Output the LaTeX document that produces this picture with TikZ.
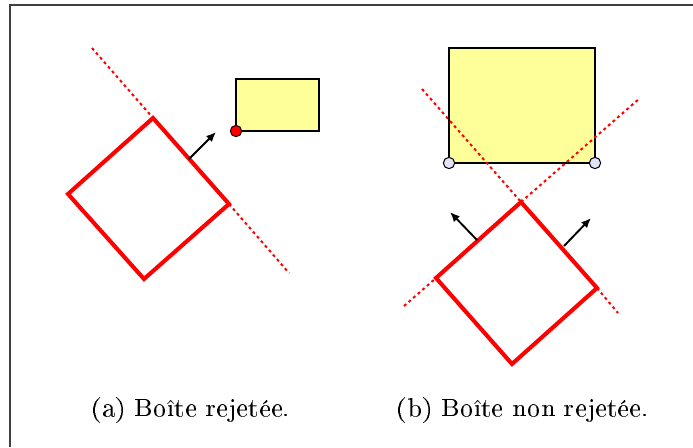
\documentclass[tikz,border=0pt]{standalone}
\usepackage[T1]{fontenc}
\usepackage{tikz}
\usetikzlibrary{arrows.meta}
\definecolor{boxfill}{RGB}{255,255,153}
\definecolor{ptfill}{RGB}{226,226,246}
\tikzstyle{cadre}=[draw=black!75, line width=0.8pt]
\tikzstyle{boite}=[draw, line width=0.7pt, fill=boxfill]
\tikzstyle{carre}=[draw=red, line width=1.4pt, line join=miter]
\tikzstyle{plan}=[draw=red, line width=0.7pt, dash pattern=on 1pt off 1.1pt]
\tikzstyle{normale}=[-{Latex[length=3.4pt,width=2.9pt]}, line width=0.65pt]
\tikzstyle{coin}=[circle, draw, line width=0.35pt, inner sep=0pt, minimum size=3.9pt]
\tikzstyle{legende}=[font=\fontsize{9.5}{11}\selectfont]

\begin{document}
\begin{tikzpicture}[x=0.345pt, y=-0.345pt]
    \useasboundingbox (0,0) rectangle (693,447);
    \draw[cadre] (10,447) -- (10,5) -- (693,5);
    % (a) rejected box
    \coordinate (aT) at (153,118);
    \coordinate (aR) at (229,204);
    \coordinate (aB) at (144,279);
    \coordinate (aL) at (68,194);
    \coordinate (aP1) at (92,48);
    \coordinate (aP2) at (289,273);
    \coordinate (aN1) at (189,159);
    \coordinate (aN2) at (216,132);
    \draw[boite] (236,79) rectangle (319,131);
    \draw[plan] (aP1) -- (aT);
    \draw[plan] (aR) -- (aP2);
    \draw[carre] (aT) -- (aR) -- (aB) -- (aL) -- cycle;
    \draw[normale] (aN1) -- (aN2);
    \node[coin, fill=red] (aC) at (236,131) {};
    % (b) box not rejected
    \coordinate (bT) at (521,202);
    \coordinate (bR) at (597,288);
    \coordinate (bB) at (512,364);
    \coordinate (bL) at (436,278);
    \coordinate (bP1) at (422,89);
    \coordinate (bP2) at (618,313);
    \coordinate (bP3) at (404,306);
    \coordinate (bP4) at (640,98);
    \coordinate (bN1) at (477,240);
    \coordinate (bN2) at (450,212);
    \coordinate (bN3) at (564,246);
    \coordinate (bN4) at (591,218);
    \draw[boite] (449,48) rectangle (595,163);
    \draw[plan] (bP1) -- (bT);
    \draw[plan] (bR) -- (bP2);
    \draw[plan] (bP3) -- (bL);
    \draw[plan] (bT) -- (bP4);
    \draw[carre] (bT) -- (bR) -- (bB) -- (bL) -- cycle;
    \draw[normale] (bN1) -- (bN2);
    \draw[normale] (bN3) -- (bN4);
    \node[coin, fill=ptfill] (bC1) at (449,163) {};
    \node[coin, fill=ptfill] (bC2) at (595,163) {};
    % captions
    \node[legende] (capA) at (191,410) {(a)~Boîte rejetée.};
    \node[legende] (capB) at (523,410) {(b)~Boîte non rejetée.};
\end{tikzpicture}
\end{document}
